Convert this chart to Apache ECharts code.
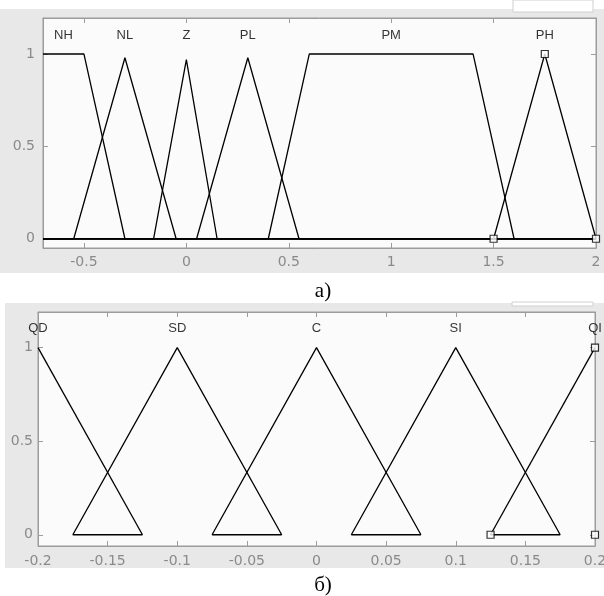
<!DOCTYPE html>
<html><head><meta charset="utf-8">
<script src="https://cdn.jsdelivr.net/npm/echarts@6/dist/echarts.min.js"></script>
<style>html,body{margin:0;padding:0;background:#fff;}#c{width:604px;height:596px;}</style>
</head><body><div id="c"></div>
<script>
// ---- Panel a) data ----
const topXTicks = [-0.5, 0, 0.5, 1, 1.5, 2];
const topYTicks = [0, 0.5, 1];
const topNames = ['NH', 'NL', 'Z', 'PL', 'PM', 'PH'];
const topLabelX = [-0.6, -0.3, 0, 0.3, 1, 1.75];
const mfNH = [[-0.7, 1], [-0.5, 1], [-0.3, 0], [2, 0]];
const mfNL = [[-0.7, 0], [-0.55, 0], [-0.3, 0.98], [-0.05, 0], [2, 0]];
const mfZ  = [[-0.7, 0], [-0.16, 0], [0, 0.97], [0.15, 0], [2, 0]];
const mfPL = [[-0.7, 0], [0.05, 0], [0.3, 0.98], [0.55, 0], [2, 0]];
const mfPM = [[-0.7, 0], [0.4, 0], [0.6, 1], [1.4, 1], [1.6, 0], [2, 0]];
const mfPH = [[-0.7, 0], [1.5, 0], [1.75, 1], [2, 0]];
const phMarkers = [[1.5, 0], [1.75, 1], [2, 0]];

// ---- Panel б) data ----
const botXTicks = [-0.2, -0.15, -0.1, -0.05, 0, 0.05, 0.1, 0.15, 0.2];
const botYTicks = [0, 0.5, 1];
const botNames = ['QD', 'SD', 'C', 'SI', 'QI'];
const botLabelX = [-0.2, -0.1, 0, 0.1, 0.2];
const mfQD = [[-0.2, 1], [-0.125, 0]];
const mfSD = [[-0.175, 0], [-0.1, 1], [-0.025, 0]];
const mfC  = [[-0.075, 0], [0, 1], [0.075, 0]];
const mfSI = [[0.025, 0], [0.1, 1], [0.175, 0]];
const mfQI = [[0.125, 0], [0.2, 1]];
const baseSegments = [[-0.175, -0.125], [-0.075, -0.025], [0.025, 0.075], [0.125, 0.175]];
const qiMarkers = [[0.125, 0], [0.2, 1], [0.2, 0]];
const labelLevel = 1.1;

const AX = '#9c9c9c', LBL = '#8a8a8a', FONT = 'Liberation Sans', TFONT = 'DejaVu Sans';

function xAx(grid, min, max, ticks, pos, showLabel, margin) {
  return {
    type: 'value', gridIndex: grid, min: min, max: max, position: pos,
    axisLine: {show: true, onZero: false, lineStyle: {color: AX, width: 1}},
    axisTick: {show: true, inside: true, length: 5, customValues: ticks, lineStyle: {color: AX}},
    axisLabel: {show: showLabel, customValues: ticks, color: LBL, fontSize: 14, fontFamily: TFONT, margin: margin},
    splitLine: {show: false}
  };
}
function yAx(grid, min, max, ticks, pos, showLabel, margin) {
  return {
    type: 'value', gridIndex: grid, min: min, max: max, position: pos,
    axisLine: {show: true, onZero: false, lineStyle: {color: AX, width: 1}},
    axisTick: {show: true, inside: true, length: 5, customValues: ticks, lineStyle: {color: AX}},
    axisLabel: {show: showLabel, customValues: ticks, color: LBL, fontSize: 14, fontFamily: TFONT, margin: margin},
    splitLine: {show: false}
  };
}
function mfLine(data, xi, yi) {
  return {type: 'line', xAxisIndex: xi, yAxisIndex: yi, data: data, symbol: 'none',
    lineStyle: {color: '#000', width: 1.3}, silent: true, animation: false, z: 3};
}
function markers(data, xi, yi) {
  return {type: 'scatter', xAxisIndex: xi, yAxisIndex: yi, data: data, symbol: 'rect', symbolSize: 7,
    itemStyle: {color: '#fff', borderColor: '#000', borderWidth: 1.2}, silent: true, animation: false, z: 4};
}
function labels(names, xs, xi, yi) {
  return {type: 'scatter', xAxisIndex: xi, yAxisIndex: yi, symbolSize: 0, silent: true, animation: false,
    data: names.map((n, i) => ({name: n, value: [xs[i], labelLevel]})),
    label: {show: true, position: 'inside', formatter: p => p.name, color: '#000', fontSize: 13, fontFamily: FONT}};
}

const series = [
  mfLine(mfNH, 0, 0), mfLine(mfNL, 0, 0), mfLine(mfZ, 0, 0), mfLine(mfPL, 0, 0), mfLine(mfPM, 0, 0), mfLine(mfPH, 0, 0),
  markers(phMarkers, 0, 0),
  labels(topNames, topLabelX, 0, 0),
  mfLine(mfQD, 2, 2), mfLine(mfSD, 2, 2), mfLine(mfC, 2, 2), mfLine(mfSI, 2, 2), mfLine(mfQI, 2, 2),
  ...baseSegments.map(s => mfLine([[s[0], 0], [s[1], 0]], 2, 2)),
  markers(qiMarkers, 2, 2),
  labels(botNames, botLabelX, 2, 2)
];

const chart = echarts.init(document.getElementById('c'), null, {renderer: 'canvas', width: 604, height: 596});
chart.setOption({
  animation: false,
  backgroundColor: '#fff',
  grid: [
    {left: 43, top: 18, width: 553, height: 230, show: true, backgroundColor: '#fbfbfb', borderColor: AX, borderWidth: 1, containLabel: false, outerBoundsMode: 'none'},
    {left: 38, top: 312, width: 557, height: 234, show: true, backgroundColor: '#fbfbfb', borderColor: AX, borderWidth: 1, containLabel: false, outerBoundsMode: 'none'}
  ],
  xAxis: [
    xAx(0, -0.7, 2, topXTicks, 'bottom', true, 7),
    xAx(0, -0.7, 2, topXTicks, 'top', false, 7),
    xAx(1, -0.2, 0.2, botXTicks, 'bottom', true, 8),
    xAx(1, -0.2, 0.2, botXTicks, 'top', false, 8)
  ],
  yAxis: [
    yAx(0, -0.05, 1.195, topYTicks, 'left', true, 8),
    yAx(0, -0.05, 1.195, topYTicks, 'right', false, 8),
    yAx(1, -0.06, 1.19, botYTicks, 'left', true, 5),
    yAx(1, -0.06, 1.19, botYTicks, 'right', false, 5)
  ],
  graphic: [
    {type: 'rect', z: -10, silent: true, shape: {x: 0, y: 9, width: 604, height: 264}, style: {fill: '#e8e8e8'}},
    {type: 'rect', z: -10, silent: true, shape: {x: 5, y: 303, width: 599, height: 265}, style: {fill: '#e8e8e8'}},
    {type: 'rect', z: -9, silent: true, shape: {x: 513, y: 0, width: 80, height: 12}, style: {fill: '#fff', stroke: '#d0d0d0', lineWidth: 1}},
    {type: 'rect', z: -9, silent: true, shape: {x: 512, y: 302, width: 81, height: 4}, style: {fill: '#fff', stroke: '#d0d0d0', lineWidth: 1}},
    {type: 'text', silent: true, style: {text: 'а)', x: 323, y: 291, align: 'center', verticalAlign: 'middle', fontSize: 21, fontFamily: 'Liberation Serif', fill: '#000'}},
    {type: 'text', silent: true, style: {text: 'б)', x: 323, y: 585, align: 'center', verticalAlign: 'middle', fontSize: 21, fontFamily: 'Liberation Serif', fill: '#000'}}
  ],
  series: series
});
</script></body></html>
